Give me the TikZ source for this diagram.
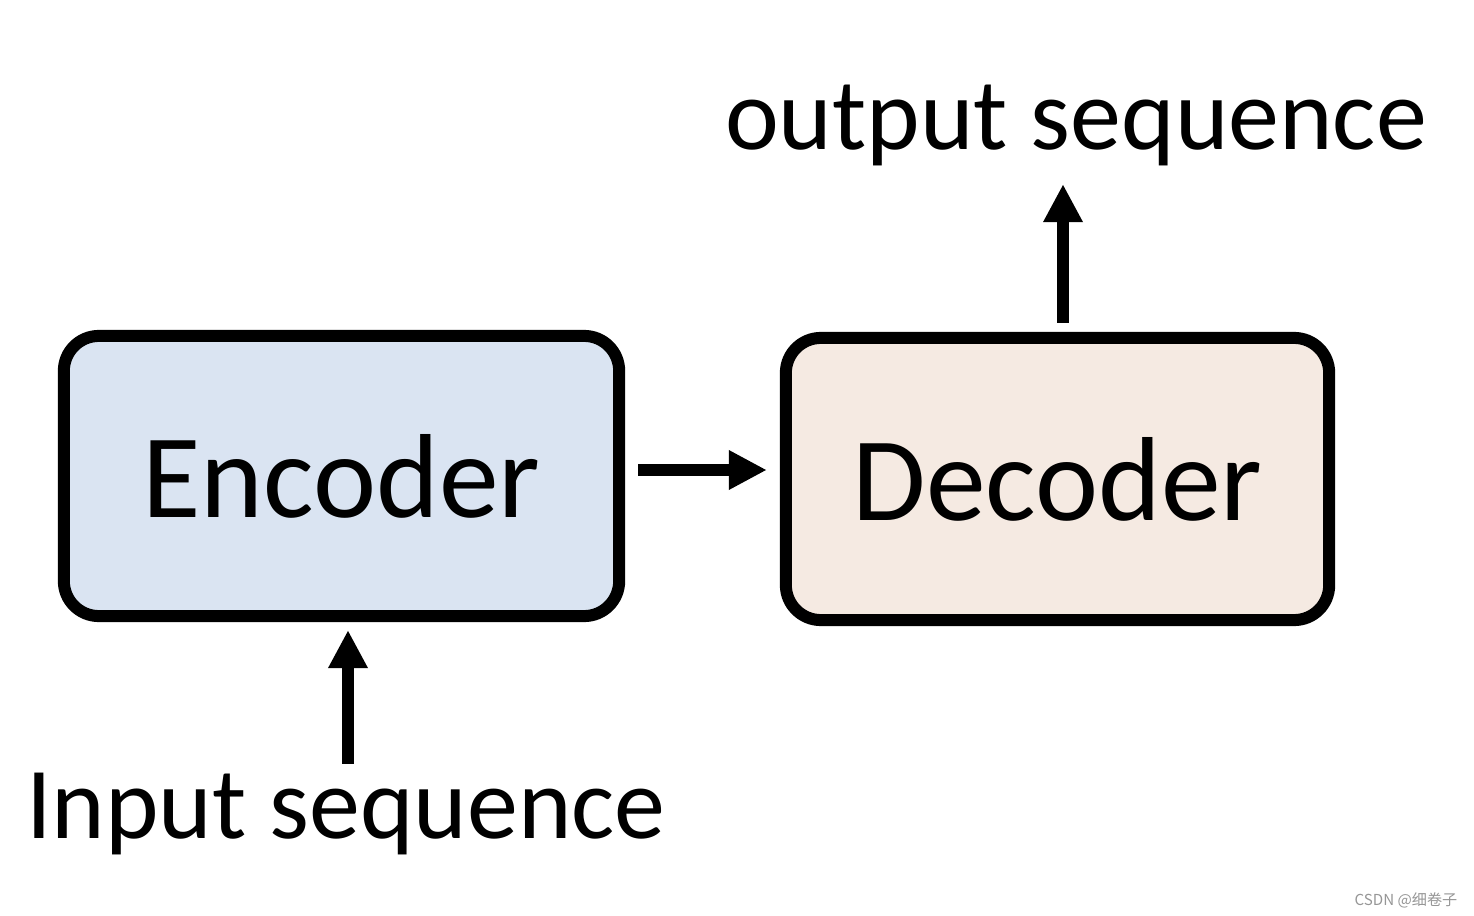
\documentclass[tikz,border=0pt]{standalone}
\usepackage{fontspec}
\setmainfont{Carlito}
\newfontfamily\cjkfont{Noto Sans CJK SC}
\usetikzlibrary{arrows.meta,positioning}
\definecolor{encfill}{RGB}{218,228,242}
\definecolor{decfill}{RGB}{245,234,226}
\definecolor{markgray}{RGB}{150,150,150}
\begin{document}
\begin{tikzpicture}[x=0.01cm, y=-0.01cm,
    block/.style={draw=black, line width=0.12cm, rounded corners=0.35cm, align=center, font=\fontsize{34}{40}\selectfont},
    label/.style={anchor=base, inner sep=0pt, font=\fontsize{29}{34}\selectfont},
    arr/.style={line width=0.12cm, -{Triangle[length=0.38cm, width=0.37cm]}}]
    \useasboundingbox (0,0) rectangle (1474,916);
    % boxes
    \node[block, fill=encfill, minimum width=5.55cm, minimum height=2.8cm] (enc) at (341.5,476) {Encoder};
    \node[block, fill=decfill, minimum width=5.43cm, minimum height=2.82cm] (dec) at (1057.5,479) {Decoder};
    % texts
    \node[label] (in) at (346,838) {Input sequence};
    \node[label] (out) at (1076,150) {output sequence};
    % arrows
    \draw[arr, shorten <=0.13cm, shorten >=0.13cm] ([yshift=0.06cm]enc.east) -- ([yshift=0.06cm]enc.east -| dec.west);
    \draw[arr, shorten >=0.08cm] ([xshift=0.065cm, yshift=0.08cm]in.north -| enc.south) -- ([xshift=0.065cm]enc.south);
    \draw[arr, shorten <=0.09cm] ([xshift=0.055cm]dec.north) -- ([xshift=0.055cm, yshift=-0.17cm]dec.north |- out.south);
    \node[anchor=east, inner sep=0pt, text=markgray, font=\cjkfont\fontsize{4.3}{5}\selectfont] (mark) at (1458,900) {CSDN @细卷子};
\end{tikzpicture}
\end{document}
